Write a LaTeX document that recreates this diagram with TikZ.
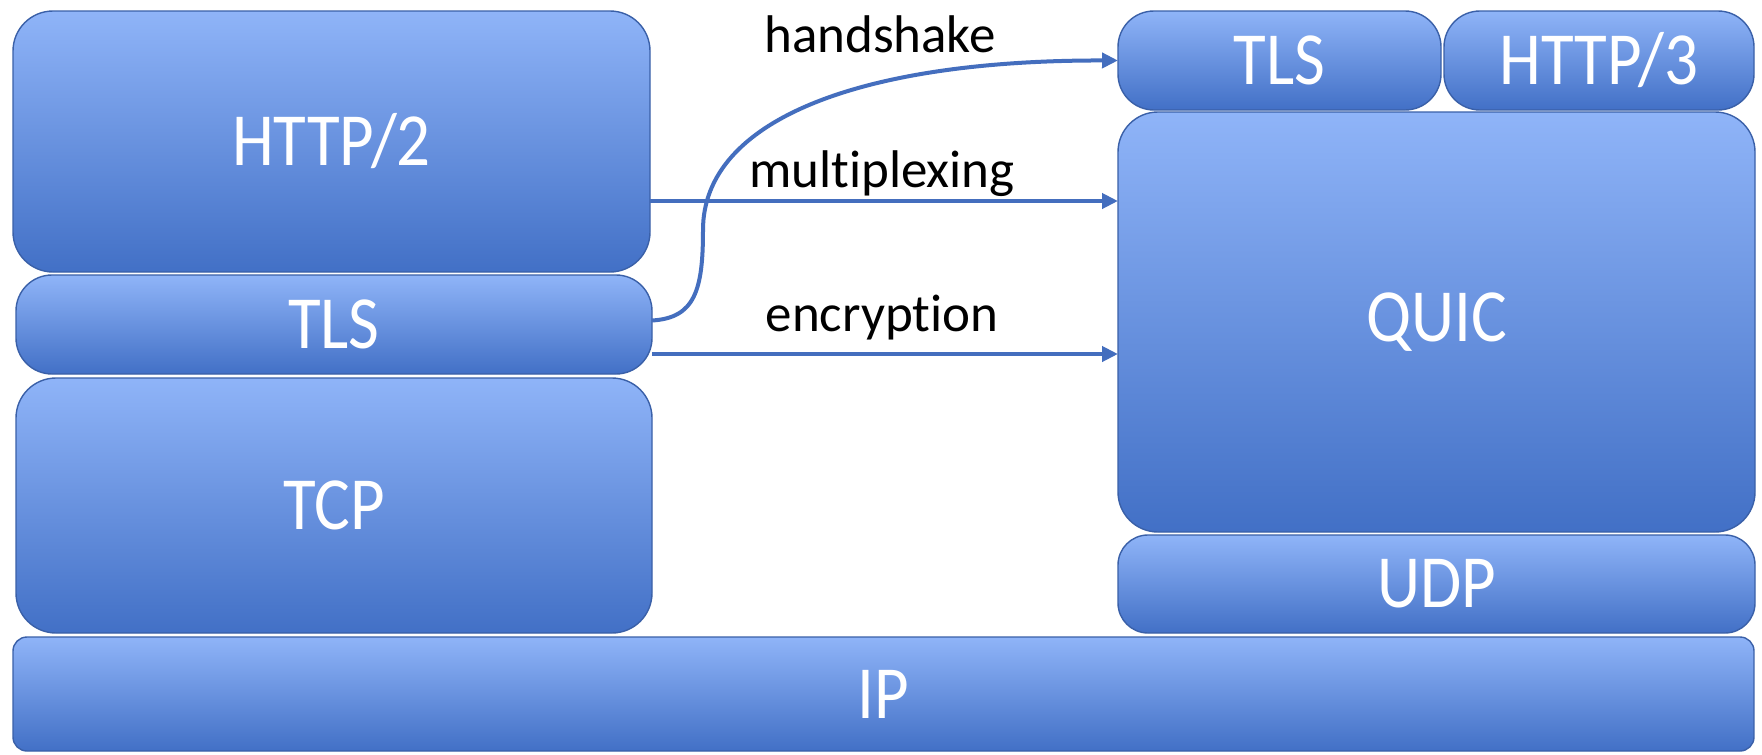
\documentclass[tikz,border=0pt]{standalone}
\usepackage{fontspec}
\setmainfont{Carlito}[Ligatures=NoCommon]
\usetikzlibrary{arrows.meta}
\definecolor{boxtop}{RGB}{143,180,248}
\definecolor{boxmid}{RGB}{124,162,236}
\definecolor{boxbot}{RGB}{66,112,198}
\definecolor{boxline}{RGB}{58,96,168}
\definecolor{arrowc}{RGB}{68,110,190}
\newcommand{\tall}[1]{\scalebox{1}[1.12]{#1}}
\begin{document}
\begin{tikzpicture}[x=0.5pt,y=-0.5pt,
  layer/.style={draw=boxline, line width=0.7pt, top color=boxtop, middle color=boxmid,
    bottom color=boxbot, rounded corners=#1, text=white,
    font=\fontsize{33.5}{38}\selectfont, inner sep=0pt, outer sep=0pt},
  layer/.default=20pt,
  flow/.style={draw=arrowc, line width=2pt, -{Triangle[length=8pt,width=7.5pt]}},
  lbl/.style={font=\fontsize{26.5}{31}\selectfont, text=black}]
\useasboundingbox[fill=white] (0,0) rectangle (1762,755);
% left stack
\node[layer=20pt, minimum width=318.5pt, minimum height=130.5pt] (http2) at (331.5,141.5) {\tall{HTTP/2}};
\node[layer=18pt, minimum width=318pt, minimum height=49.5pt] (tlsL) at (334,324.5) {\tall{TLS}};
\node[layer=20pt, minimum width=318pt, minimum height=127.5pt] (tcp) at (334,505.5) {\tall{TCP}};
% bottom
\node[layer=7pt, minimum width=870.5pt, minimum height=57pt] (ip) at (883.5,694) {\tall{IP}};
% right stack
\node[layer=18pt, minimum width=161.5pt, minimum height=49.5pt] (tlsR) at (1279.5,60.5) {\tall{TLS}};
\node[layer=18pt, minimum width=155pt, minimum height=49.5pt] (http3) at (1599,60.5) {\tall{HTTP/3}};
\node[layer=20pt, minimum width=318.5pt, minimum height=210pt] (quic) at (1436.5,322) {\tall{QUIC}};
\node[layer=15pt, minimum width=318.5pt, minimum height=49pt] (udp) at (1436.5,584) {\tall{UDP}};
% labels
\node[lbl] (hs) at (880,34) {handshake};
\node[lbl] (mx) at (882,174) {multiplexing};
\node[lbl] (en) at (882,318) {encryption};
% connectors
\draw[flow] ([yshift=-29.75pt]http2.east) coordinate (m0) -- (m0 -| quic.west);
\draw[flow] ([yshift=-14.75pt]tlsL.east) coordinate (e0) -- (e0 -| quic.west);
\draw[flow] ([yshift=2pt]tlsL.east) .. controls (695,318) and (703,290) .. (703,230)
  .. controls (703,120) and (860,60) .. (tlsR.west);
\end{tikzpicture}
\end{document}
